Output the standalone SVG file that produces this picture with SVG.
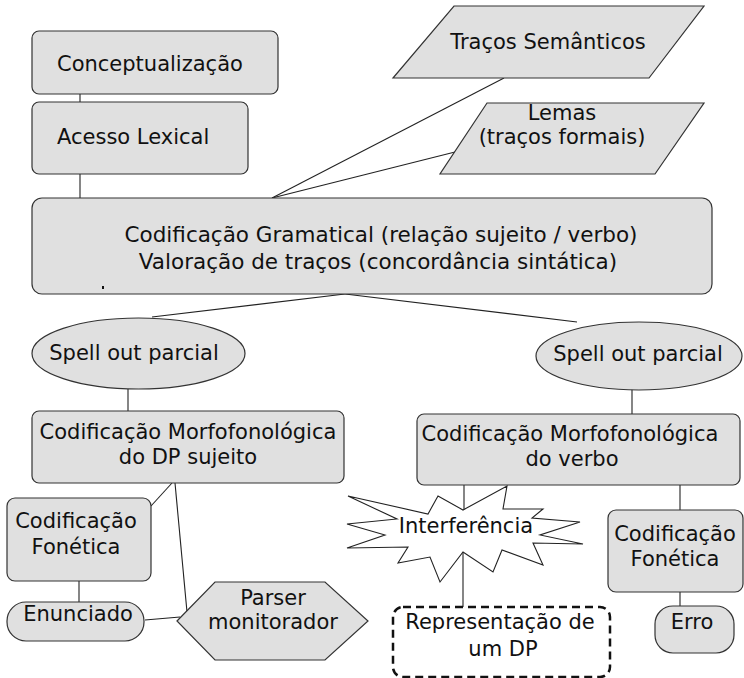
<svg xmlns="http://www.w3.org/2000/svg" width="744" height="678" viewBox="0 0 744 678">
<style>
.n{fill:#e0e0e0;stroke:#333;stroke-width:1.2}
.t{font-family:"DejaVu Sans",Verdana,sans-serif;font-size:21px;fill:#111}
.m{text-anchor:middle}
.c{stroke:#222;stroke-width:1.1;fill:none}
</style>
<rect width="744" height="678" fill="#fff"/>
<g id="connectors">
<line class="c" x1="80" y1="94" x2="80" y2="102"/>
<line class="c" x1="80" y1="174" x2="80" y2="198"/>
<line class="c" x1="272" y1="198" x2="504" y2="78"/>
<line class="c" x1="272" y1="198" x2="455" y2="152"/>
<line class="c" x1="345" y1="294" x2="152" y2="317"/>
<line class="c" x1="345" y1="294" x2="577" y2="322"/>
<line class="c" x1="128" y1="389" x2="128" y2="411"/>
<line class="c" x1="632" y1="389" x2="632" y2="414"/>
<line class="c" x1="172" y1="483" x2="151" y2="506"/>
<line class="c" x1="175" y1="483" x2="187" y2="612"/>
<line class="c" x1="79" y1="581" x2="79" y2="602"/>
<line class="c" x1="145" y1="620" x2="180" y2="617"/>
<line class="c" x1="464" y1="485" x2="464" y2="510"/>
<line class="c" x1="463" y1="552" x2="463" y2="607"/>
<line class="c" x1="680" y1="485" x2="680" y2="510"/>
<line class="c" x1="680" y1="592" x2="680" y2="606"/>
</g>
<g id="conceptualizacao">
<rect class="n" x="32" y="31" width="246" height="63" rx="7"/>
<text class="t" x="57" y="71">Conceptualização</text>
</g>
<g id="acesso-lexical">
<rect class="n" x="32" y="102" width="216" height="72" rx="7"/>
<text class="t" x="57" y="144">Acesso Lexical</text>
</g>
<g id="tracos-semanticos">
<polygon class="n" points="454,6 704,6 649,78 393,78"/>
<text class="t m" x="548" y="49">Traços Semânticos</text>
</g>
<g id="lemas">
<polygon class="n" points="487,103 704,103 655,174 440,174"/>
<text class="t m" x="562" y="120">Lemas</text>
<text class="t m" x="562" y="144">(traços formais)</text>
</g>
<g id="codificacao-gramatical">
<rect class="n" x="32" y="198" width="680" height="96" rx="10"/>
<text class="t m" x="381" y="242" style="font-size:21.5px">Codificação Gramatical (relação sujeito / verbo)</text>
<text class="t m" x="378" y="269" style="font-size:21.5px">Valoração de traços (concordância sintática)</text>
<rect x="102" y="286" width="2" height="3" fill="#111"/>
</g>
<g id="spell-out-esq">
<ellipse class="n" cx="138.5" cy="353.5" rx="106.5" ry="35.5"/>
<text class="t m" x="134" y="360">Spell out parcial</text>
</g>
<g id="spell-out-dir">
<ellipse class="n" cx="639" cy="356" rx="103" ry="34"/>
<text class="t m" x="638" y="361">Spell out parcial</text>
</g>
<g id="morfo-dp">
<rect class="n" x="32" y="411" width="312" height="72" rx="7"/>
<text class="t m" x="188" y="439">Codificação Morfofonológica</text>
<text class="t m" x="188" y="464">do DP sujeito</text>
</g>
<g id="morfo-verbo">
<rect class="n" x="417" y="414" width="323" height="71" rx="7"/>
<text class="t m" x="570" y="441">Codificação Morfofonológica</text>
<text class="t m" x="572" y="466">do verbo</text>
</g>
<g id="fonetica-esq">
<rect class="n" x="7" y="498" width="144" height="83" rx="8"/>
<text class="t m" x="76" y="528">Codificação</text>
<text class="t m" x="76" y="554">Fonética</text>
</g>
<g id="enunciado">
<rect class="n" x="7" y="602" width="137" height="39" rx="19"/>
<text class="t m" x="78" y="621">Enunciado</text>
</g>
<g id="parser">
<polygon class="n" points="177,621 215,582 325,582 368,621 325,660 215,660"/>
<text class="t m" x="273" y="605">Parser</text>
<text class="t m" x="273" y="629">monitorador</text>
</g>
<g id="interferencia">
<polygon fill="#fff" stroke="#222" stroke-width="1.1" points="348,496 428,514 438,496 463,510 507,486 503,509 543,509 532,518 580,522 540,535 583,544 533,543 543,565 502,550 493,572 463,552 440,582 430,557 398,563 408,547 347,548 385,535 347,524 397,519"/>
<text class="t m" x="466" y="533">Interferência</text>
</g>
<g id="representacao-dp">
<rect x="393" y="607" width="217" height="70" rx="10" fill="#fff" stroke="#111" stroke-width="2.5" stroke-dasharray="8,5"/>
<text class="t m" x="500" y="629">Representação de</text>
<text class="t m" x="503" y="656">um DP</text>
</g>
<g id="fonetica-dir">
<rect class="n" x="608" y="510" width="135" height="82" rx="8"/>
<text class="t m" x="675" y="541">Codificação</text>
<text class="t m" x="675" y="566">Fonética</text>
</g>
<g id="erro">
<rect class="n" x="655" y="606" width="79" height="47" rx="18"/>
<text class="t m" x="692" y="629">Erro</text>
</g>
</svg>
